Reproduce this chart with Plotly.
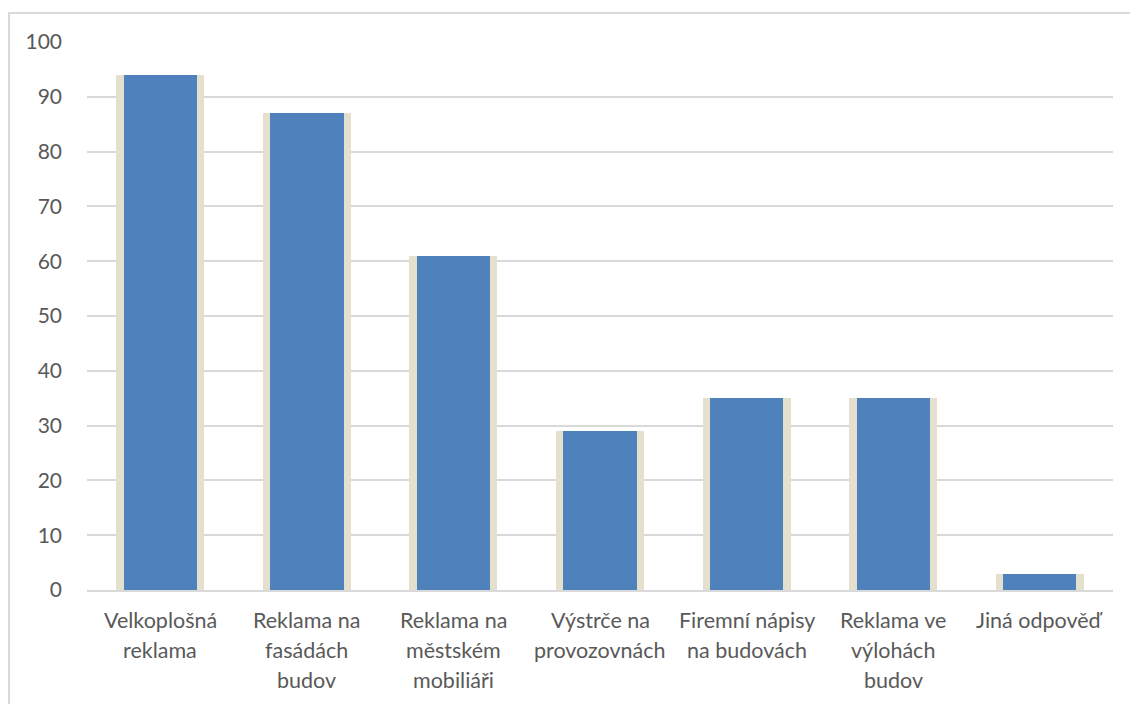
import plotly.graph_objects as go

categories = ["Velkoplošná reklama", "Reklama na fasádách budov", "Reklama na městském mobiliáři",
              "Výstrče na provozovnách", "Firemní nápisy na budovách", "Reklama ve výlohách budov",
              "Jiná odpověď"]
label_lines = [["Velkoplošná", "reklama"], ["Reklama na", "fasádách", "budov"],
               ["Reklama na", "městském", "mobiliáři"], ["Výstrče na", "provozovnách"],
               ["Firemní nápisy", "na budovách"], ["Reklama ve", "výlohách", "budov"],
               ["Jiná odpověď"]]
values = [94, 87, 61, 29, 35, 35, 3]
y_ticks = list(range(0, 101, 10))

TEXT = "#595959"
FONT = "Lato, Liberation Sans, sans-serif"

fig = go.Figure()
# soft shadow behind bars
fig.add_trace(go.Bar(x=categories, y=values, width=0.6, marker=dict(color="#E5E0CE", line=dict(width=0)),
                     hoverinfo="skip", showlegend=False))
fig.add_trace(go.Bar(x=categories, y=values, width=0.5, marker=dict(color="#4F81BD", line=dict(width=0)),
                     showlegend=False))

annotations = []
for cat, lines in zip(categories, label_lines):
    for i, ln in enumerate(lines):
        annotations.append(dict(x=cat, y=0, xref="x", yref="y", text=ln, showarrow=False,
                                yshift=-(30 + 30 * i), yanchor="middle",
                                font=dict(family=FONT, size=21.5, color=TEXT)))

fig.update_layout(
    width=1130, height=704,
    margin=dict(l=87, r=17, t=42, b=114),
    paper_bgcolor="white", plot_bgcolor="white",
    barmode="overlay", bargap=0,
    annotations=annotations,
    xaxis=dict(showticklabels=False, showline=True, linecolor="#D9D9D9", linewidth=2,
               showgrid=False, ticks="", fixedrange=True),
    yaxis=dict(range=[0, 100], tickvals=y_ticks, showgrid=True, gridcolor="#D9D9D9", gridwidth=2,
               zeroline=False, showline=False, ticks="", ticklabelstandoff=24,
               tickfont=dict(family=FONT, size=21, color=TEXT)),
    shapes=[dict(type="rect", xref="paper", yref="paper", x0=-0.076, x1=1.05, y0=-0.25, y1=1.053,
                 line=dict(color="#D9D9D9", width=2), fillcolor="rgba(0,0,0,0)", layer="below")],
)

fig.write_html("out.html")
